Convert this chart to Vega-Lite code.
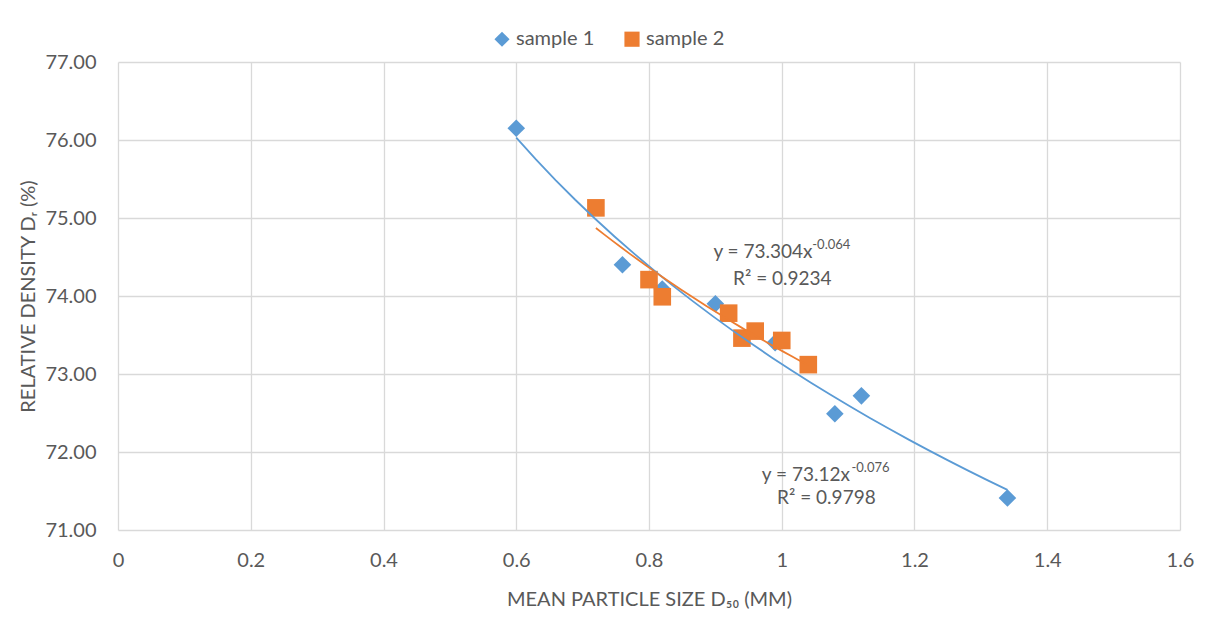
{
  "$schema": "https://vega.github.io/schema/vega-lite/v6.json",
  "width": 1062,
  "height": 468,
  "autosize": {"type": "none"},
  "padding": {"left": 118, "top": 62, "right": 30, "bottom": 102},
  "background": "white",
  "config": {
    "font": "Lato",
    "view": {"stroke": null},
    "axis": {
      "gridColor": "#D9D9D9",
      "gridWidth": 1.3,
      "domain": false,
      "ticks": false,
      "labelFont": "Lato",
      "labelFontSize": 20,
      "labelColor": "#595959",
      "titleFont": "Lato",
      "titleFontSize": 20,
      "titleFontWeight": "normal",
      "titleColor": "#595959"
    }
  },
  "datasets": {
    "pts": [
      {"series": "sample 1", "size_mm": 0.6, "density": 76.15},
      {"series": "sample 1", "size_mm": 0.76, "density": 74.40},
      {"series": "sample 1", "size_mm": 0.82, "density": 74.09},
      {"series": "sample 1", "size_mm": 0.9, "density": 73.90},
      {"series": "sample 1", "size_mm": 0.99, "density": 73.40},
      {"series": "sample 1", "size_mm": 1.08, "density": 72.49},
      {"series": "sample 1", "size_mm": 1.12, "density": 72.72},
      {"series": "sample 1", "size_mm": 1.34, "density": 71.41},
      {"series": "sample 2", "size_mm": 0.72, "density": 75.13},
      {"series": "sample 2", "size_mm": 0.8, "density": 74.21},
      {"series": "sample 2", "size_mm": 0.82, "density": 73.99},
      {"series": "sample 2", "size_mm": 0.92, "density": 73.78},
      {"series": "sample 2", "size_mm": 0.94, "density": 73.46},
      {"series": "sample 2", "size_mm": 0.96, "density": 73.55},
      {"series": "sample 2", "size_mm": 1.0, "density": 73.43},
      {"series": "sample 2", "size_mm": 1.04, "density": 73.12}
    ],
    "notes": [
      {"kind": "main", "size_mm": 0.897, "density": 74.56, "label": "y = 73.304x"},
      {"kind": "sup", "size_mm": 1.046, "density": 74.65, "label": "-0.064"},
      {"kind": "main", "size_mm": 0.9266, "density": 74.22, "label": "R² = 0.9234"},
      {"kind": "main", "size_mm": 0.970, "density": 71.705, "label": "y = 73.12x"},
      {"kind": "sup", "size_mm": 1.105, "density": 71.795, "label": "-0.076"},
      {"kind": "main", "size_mm": 0.993, "density": 71.41, "label": "R² = 0.9798"}
    ]
  },
  "encoding": {
    "x": {
      "field": "size_mm",
      "type": "quantitative",
      "scale": {"domain": [0, 1.6], "nice": false},
      "axis": {"values": [0, 0.2, 0.4, 0.6, 0.8, 1, 1.2, 1.4, 1.6], "format": "~g", "labelPadding": 20, "titlePadding": 19, "labelFlush": false},
      "title": "MEAN PARTICLE SIZE D₅₀ (MM)"
    },
    "y": {
      "field": "density",
      "type": "quantitative",
      "scale": {"domain": [71, 77], "nice": false, "zero": false},
      "axis": {"values": [71, 72, 73, 74, 75, 76, 77], "format": ".2f", "labelPadding": 22, "titlePadding": 6},
      "title": "RELATIVE DENSITY Dᵣ (%)"
    }
  },
  "layer": [
    {
      "data": {"name": "pts"},
      "mark": {"type": "point", "filled": true, "opacity": 1, "size": 310},
      "encoding": {
        "color": {
          "field": "series", "type": "nominal",
          "scale": {"domain": ["sample 1", "sample 2"], "range": ["#5B9BD5", "#ED7D31"]},
          "legend": {
            "title": null, "orient": "none", "legendX": 374, "legendY": -33,
            "direction": "horizontal", "labelFontSize": 20, "labelColor": "#595959",
            "labelFont": "Lato", "symbolSize": 230, "columnPadding": 26, "labelOffset": 4,
            "symbolOpacity": 1
          }
        },
        "shape": {
          "field": "series", "type": "nominal",
          "scale": {"domain": ["sample 1", "sample 2"], "range": ["diamond", "square"]},
          "legend": {
            "title": null, "orient": "none", "legendX": 374, "legendY": -33,
            "direction": "horizontal", "labelFontSize": 20, "labelColor": "#595959",
            "labelFont": "Lato", "symbolSize": 230, "columnPadding": 26, "labelOffset": 4,
            "symbolOpacity": 1
          }
        }
      }
    },
    {
      "data": {"name": "pts"},
      "transform": [
        {"filter": "datum.series === 'sample 1'"},
        {"regression": "density", "on": "size_mm", "method": "pow"}
      ],
      "mark": {"type": "line", "color": "#5B9BD5", "strokeWidth": 1.8}
    },
    {
      "data": {"name": "pts"},
      "transform": [
        {"filter": "datum.series === 'sample 2'"},
        {"regression": "density", "on": "size_mm", "method": "pow"}
      ],
      "mark": {"type": "line", "color": "#ED7D31", "strokeWidth": 1.8}
    },
    {
      "data": {"name": "notes"},
      "transform": [{"filter": "datum.kind === 'main'"}],
      "mark": {"type": "text", "align": "left", "baseline": "middle", "fontSize": 19, "color": "#595959", "font": "Lato"},
      "encoding": {"text": {"field": "label"}}
    },
    {
      "data": {"name": "notes"},
      "transform": [{"filter": "datum.kind === 'sup'"}],
      "mark": {"type": "text", "align": "left", "baseline": "middle", "fontSize": 13, "color": "#595959", "font": "Lato"},
      "encoding": {"text": {"field": "label"}}
    }
  ]
}
